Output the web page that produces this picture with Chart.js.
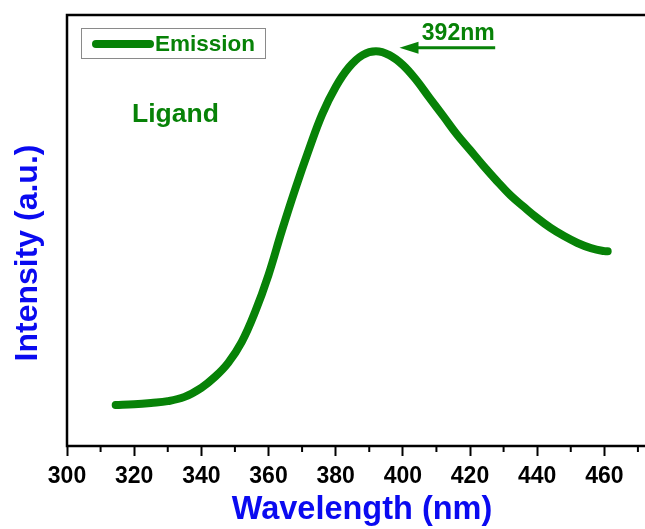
<!DOCTYPE html>
<html>
<head>
<meta charset="utf-8">
<script src="https://cdn.jsdelivr.net/npm/chart.js@4"></script>
<style>
  html, body { margin: 0; padding: 0; background: #fff; overflow: hidden; }
  #wrap { width: 700px; height: 529px; }
</style>
</head>
<body>
<div id="wrap"><canvas id="emissionChart" width="700" height="529"></canvas></div>
<script>
// DONNÉES
const wavelength = [314.5, 320, 325, 330, 335, 340, 344, 348, 352, 356, 360, 364, 368, 372, 376, 380, 384, 388, 392, 396, 400, 404, 408, 412, 416, 420, 424, 428, 432, 436, 440, 444, 448, 452, 456, 460, 461];
const intensity  = [95, 97, 100, 104, 114, 135, 160, 193, 241, 311, 397, 500, 597, 687, 770, 833, 879, 907, 916, 907, 884, 849, 807, 766, 724, 687, 650, 615, 582, 555, 529, 506, 487, 471, 459, 452, 452];
const seriesLabel = 'Emission';
const sampleLabel = 'Ligand';
const peakLabel = '392nm';
const xTitle = 'Wavelength (nm)';
const yTitle = 'Intensity (a.u.)';
const xTicks = [300, 320, 340, 360, 380, 400, 420, 440, 460, 480];

const GREEN = '#078207';
const BLUE = '#0a0af0';
const FONT = '"Liberation Sans", Arial, sans-serif';

// CADRE + TICKS MINEURS + TITRES DES AXES
const framePlugin = {
    id: 'frame',
    afterDraw(chart) {
        const { ctx, chartArea: a, scales } = chart;
        ctx.save();
        ctx.strokeStyle = '#000';
        ctx.lineWidth = 2.5;
        ctx.strokeRect(a.left, a.top, a.right - a.left, a.bottom - a.top);
        // ticks mineurs
        ctx.lineWidth = 2;
        for (let v = 310; v <= 480; v += 20) {
            const x = scales.x.getPixelForValue(v);
            ctx.beginPath();
            ctx.moveTo(x, a.bottom);
            ctx.lineTo(x, a.bottom + 6);
            ctx.stroke();
        }
        ctx.fillStyle = BLUE;
        ctx.font = 'bold 32.5px ' + FONT;
        ctx.textAlign = 'center';
        ctx.textBaseline = 'middle';
        // titre X
        ctx.fillText(xTitle, 362, 510);
        // titre Y
        ctx.translate(28, 253);
        ctx.rotate(-Math.PI / 2);
        ctx.font = 'bold 32px ' + FONT;
        ctx.fillText(yTitle, 0, 0);
        ctx.restore();
    }
};

// LÉGENDE + ANNOTATIONS
const notesPlugin = {
    id: 'notes',
    afterDatasetsDraw(chart) {
        const { ctx, scales } = chart;
        const x = scales.x, y = scales.y;
        ctx.save();
        // boîte de légende
        ctx.strokeStyle = '#8a8a8a';
        ctx.lineWidth = 1;
        ctx.strokeRect(81.5, 28.5, 184, 30);
        ctx.strokeStyle = GREEN;
        ctx.lineWidth = 8;
        ctx.lineCap = 'round';
        ctx.beginPath();
        ctx.moveTo(96, 44);
        ctx.lineTo(150, 44);
        ctx.stroke();
        ctx.fillStyle = GREEN;
        ctx.font = 'bold 22.5px ' + FONT;
        ctx.textBaseline = 'middle';
        ctx.fillText(chart.data.datasets[0].label, 155, 45);

        // Ligand
        ctx.font = 'bold 26.5px ' + FONT;
        ctx.textBaseline = 'alphabetic';
        ctx.fillText(sampleLabel, 132, 122);

        // flèche du pic
        const tipX = x.getPixelForValue(399);
        const endX = x.getPixelForValue(427.5);
        const ay = y.getPixelForValue(924);
        ctx.lineWidth = 3;
        ctx.lineCap = 'butt';
        ctx.beginPath();
        ctx.moveTo(tipX + 14, ay);
        ctx.lineTo(endX, ay);
        ctx.stroke();
        ctx.beginPath();
        ctx.moveTo(tipX, ay);
        ctx.lineTo(tipX + 19, ay - 6);
        ctx.lineTo(tipX + 19, ay + 6);
        ctx.closePath();
        ctx.fill();
        ctx.font = 'bold 23px ' + FONT;
        ctx.textAlign = 'center';
        ctx.fillText(peakLabel, x.getPixelForValue(416.5), ay - 8);
        ctx.restore();
    }
};

const ctx = document.getElementById('emissionChart').getContext('2d');
const myChart = new Chart(ctx, {
    type: 'line',
    data: {
        datasets: [{
            label: seriesLabel,
            data: wavelength.map((w, i) => ({ x: w, y: intensity[i] })),
            borderColor: GREEN,
            borderWidth: 8,
            borderCapStyle: 'round',
            borderJoinStyle: 'round',
            pointRadius: 0,
            tension: 0.4,
            fill: false
        }]
    },
    options: {
        responsive: false,
        animation: false,
        layout: { padding: { top: 15, right: 28.5, left: 0, bottom: 0 } },
        plugins: { legend: { display: false }, tooltip: { enabled: false } },
        scales: {
            x: {
                type: 'linear',
                min: 300,
                max: 480,
                afterBuildTicks: s => { s.ticks = xTicks.map(v => ({ value: v })); },
                afterFit: s => { s.height = 83; },
                ticks: {
                    color: '#000',
                    font: { family: FONT, size: 23, weight: 'bold' },
                    padding: 7,
                    maxRotation: 0
                },
                grid: { drawOnChartArea: false, drawTicks: true, tickLength: 10, tickWidth: 2, tickColor: '#000' },
                border: { display: false }
            },
            y: {
                min: 0,
                max: 1000,
                afterFit: s => { s.width = 67; },
                ticks: { display: false },
                grid: { display: false },
                border: { display: false }
            }
        }
    },
    plugins: [framePlugin, notesPlugin]
});
</script>
</body>
</html>
